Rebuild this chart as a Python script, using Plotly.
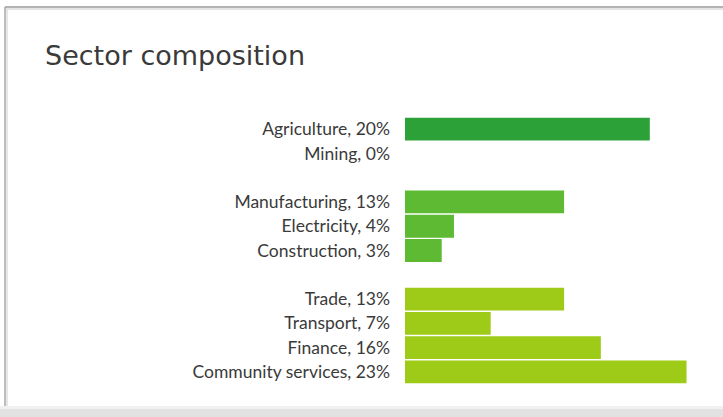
import plotly.graph_objects as go

# Sector shares of output (%), grouped: primary, secondary, tertiary
sectors = ["Agriculture", "Mining", "", "Manufacturing", "Electricity", "Construction", " ",
           "Trade", "Transport", "Finance", "Community services"]
shares = [20, 0, None, 13, 4, 3, None, 13, 7, 16, 23]
groups = ["primary", "primary", None, "secondary", "secondary", "secondary", None,
          "tertiary", "tertiary", "tertiary", "tertiary"]
group_colors = {"primary": "#2ba137", "secondary": "#5dba32", "tertiary": "#9dcb17"}

labels = [f"{s}, {v}%" if v is not None else s for s, v in zip(sectors, shares)]
colors = [group_colors[g] if g else "rgba(0,0,0,0)" for g in groups]

W, H = 723, 417
ML, MR, MT, MB = 405, 12, 117, 33
PW, PH = W - ML - MR, H - MT - MB


def px(x):
    return (x - ML) / PW


def py(y):
    return (H - MB - y) / PH


fig = go.Figure(
    go.Bar(
        x=[v if v is not None else 0 for v in shares],
        y=labels,
        orientation="h",
        marker=dict(color=colors, line=dict(width=0)),
        hoverinfo="skip",
    )
)

# slide frame: top rule, left rule, bottom shadow band
frame = [
    dict(type="line", x0=px(5), x1=px(723), y0=py(7), y1=py(7),
         line=dict(color="#9a9a9a", width=1.5)),
    dict(type="line", x0=px(5), x1=px(723), y0=py(9), y1=py(9),
         line=dict(color="#e4e4e4", width=2)),
    dict(type="line", x0=px(5), x1=px(5), y0=py(7), y1=py(411),
         line=dict(color="#a8a8a8", width=1.5)),
    dict(type="line", x0=px(7), x1=px(7), y0=py(9), y1=py(409),
         line=dict(color="#e6e6e6", width=2)),
    dict(type="rect", x0=px(0), x1=px(723), y0=py(406), y1=py(417),
         line=dict(width=0), fillcolor="#f1f1f1"),
    dict(type="rect", x0=px(0), x1=px(723), y0=py(409), y1=py(417),
         line=dict(width=0), fillcolor="#e2e2e2"),
]
for s in frame:
    s.update(xref="paper", yref="paper", layer="below")

fig.update_layout(
    width=W, height=H,
    margin=dict(l=ML, r=MR, t=MT, b=MB),
    paper_bgcolor="white", plot_bgcolor="white",
    showlegend=False,
    bargap=0.06,
    shapes=frame,
    font=dict(family="Lato, 'Open Sans', sans-serif", color="#3a3a3a"),
    annotations=[
        dict(text="Sector composition", xref="paper", yref="paper",
             x=px(43), y=py(55), xanchor="left", yanchor="middle",
             showarrow=False,
             font=dict(family="'DejaVu Sans', sans-serif", size=27, color="#3a3a3a")),
    ],
)
fig.update_xaxes(range=[0, 25], visible=False, fixedrange=True)
fig.update_yaxes(
    categoryorder="array", categoryarray=labels, autorange="reversed",
    showline=False, showgrid=False, zeroline=False, ticks="",
    ticklabelstandoff=14,
    tickfont=dict(size=17.5, color="#3a3a3a"),
)

fig.write_html("out.html")
